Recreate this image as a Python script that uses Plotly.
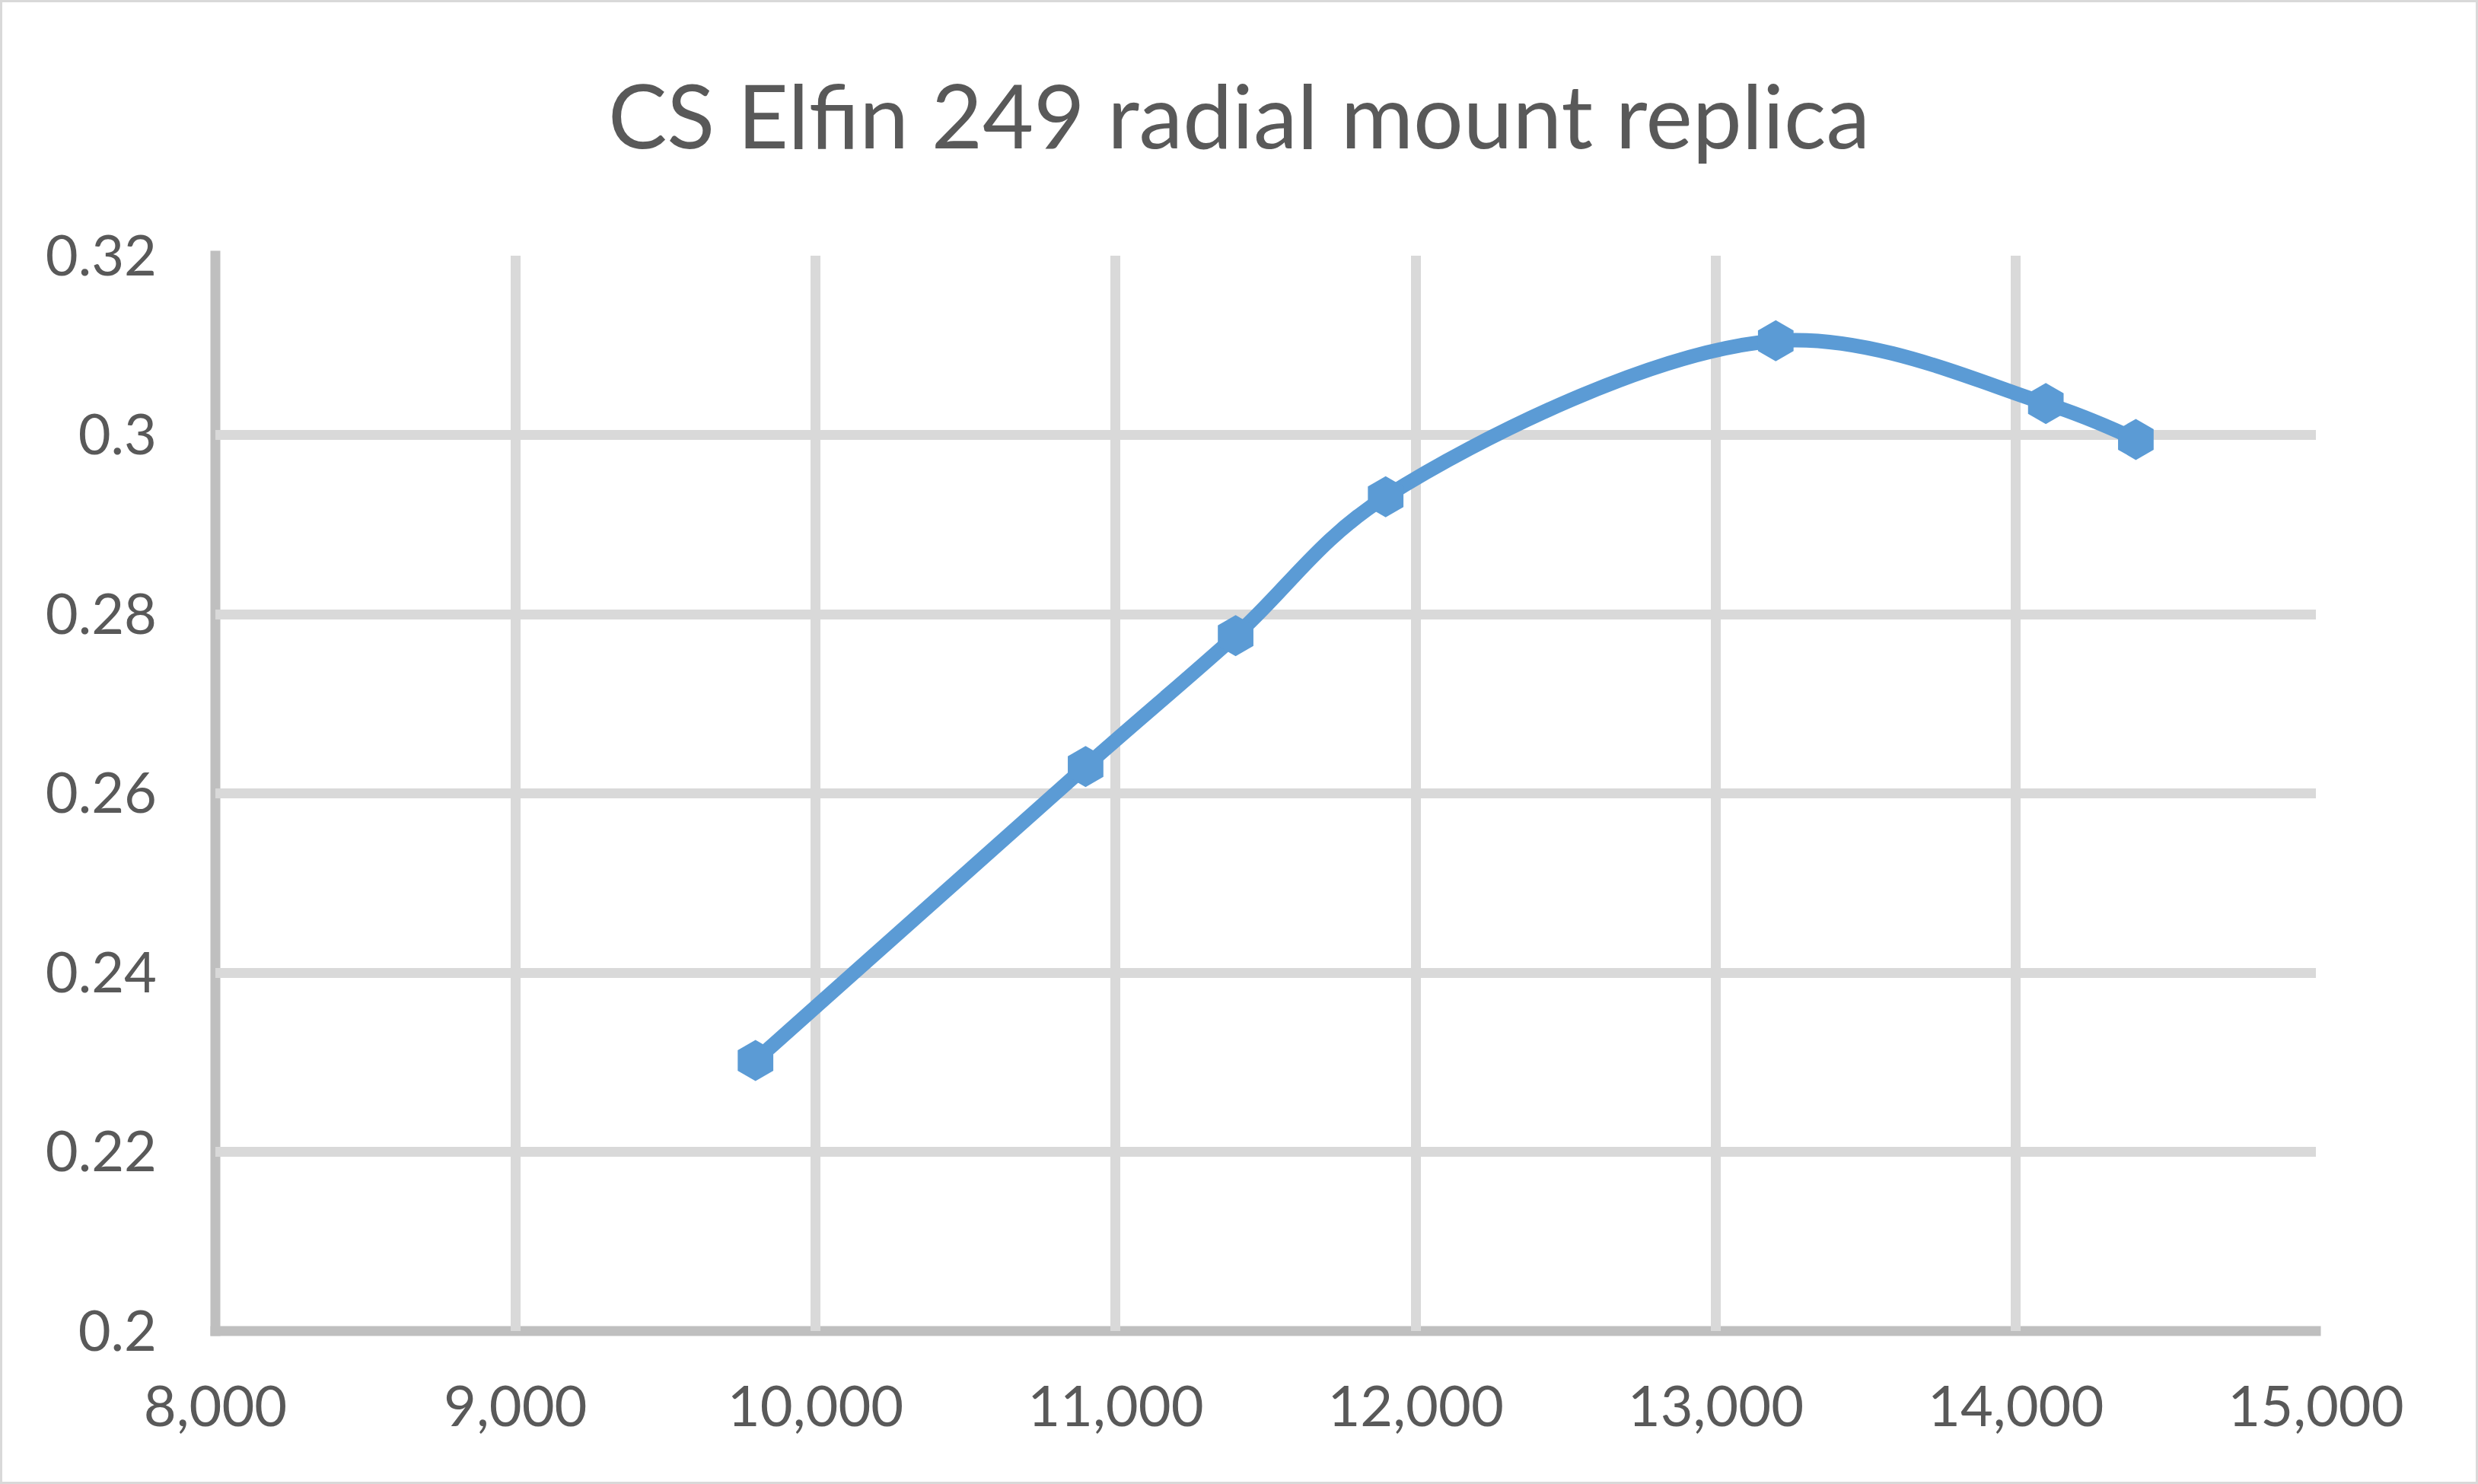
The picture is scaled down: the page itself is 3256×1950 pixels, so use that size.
import plotly.graph_objects as go

rpm = [9800, 10900, 11400, 11900, 13200, 14100, 14400]
value = [0.2302, 0.2630, 0.2776, 0.2931, 0.3105, 0.3035, 0.2995]
x_ticks = [8000, 9000, 10000, 11000, 12000, 13000, 14000, 15000]
x_labels = ["8,000", "9,000", "10,000", "11,000", "12,000", "13,000", "14,000", "15,000"]
y_ticks = [0.2, 0.22, 0.24, 0.26, 0.28, 0.3, 0.32]
y_labels = ["0.2", "0.22", "0.24", "0.26", "0.28", "0.3", "0.32"]
title = "CS Elfin 249 radial mount replica"

W, H = 3256, 1950
L, R, T, B = 283, 213, 336, 201
pw, ph = W - L - R, H - T - B
LW = 13

fig = go.Figure()
fig.add_trace(go.Scatter(
    x=rpm, y=value, mode="lines+markers",
    line=dict(color="#5B9BD5", width=19, shape="spline", smoothing=1.0),
    marker=dict(symbol="hexagon", size=54, color="#5B9BD5"),
    showlegend=False,
))

font_family = "Lato, 'Open Sans', sans-serif"
fig.update_layout(
    width=W, height=H,
    margin=dict(l=L, r=R, t=T, b=B, pad=0),
    paper_bgcolor="white", plot_bgcolor="white",
    font=dict(family=font_family, color="#595959"),
    title=dict(text=title, x=0.5, xanchor="center", xref="container",
               y=1 - 154 / H, yanchor="middle", yref="container",
               font=dict(size=116, color="#595959", family=font_family)),
    xaxis=dict(range=[8000, 15000], tickvals=x_ticks, ticktext=x_labels,
               showgrid=True, gridcolor="#D9D9D9", gridwidth=LW,
               showline=False, zeroline=False, ticks="", ticklabelstandoff=50,
               tickfont=dict(size=74, color="#595959")),
    yaxis=dict(range=[0.2, 0.32], tickvals=y_ticks, ticktext=y_labels,
               showgrid=True, gridcolor="#D9D9D9", gridwidth=LW,
               showline=False, zeroline=False, ticks="", ticklabelstandoff=76,
               tickfont=dict(size=74, color="#595959")),
    shapes=[
        dict(type="rect", xref="paper", yref="paper",
             x0=-L / pw, x1=(W - L) / pw, y0=-B / ph, y1=(H - B) / ph,
             line=dict(color="#D9D9D9", width=6), fillcolor="rgba(0,0,0,0)",
             layer="below"),
        dict(type="line", xref="paper", yref="paper",
             x0=0, x1=0, y0=-(LW / 2) / ph, y1=1 + (LW / 2) / ph,
             line=dict(color="#BFBFBF", width=LW), layer="below"),
        dict(type="line", xref="paper", yref="paper",
             x0=-(LW / 2) / pw, x1=1 + (LW / 2) / pw, y0=0, y1=0,
             line=dict(color="#BFBFBF", width=LW), layer="below"),
    ],
)

fig.write_html("out.html", config={"displayModeBar": False},
               post_script="document.body.style.margin='0';")
